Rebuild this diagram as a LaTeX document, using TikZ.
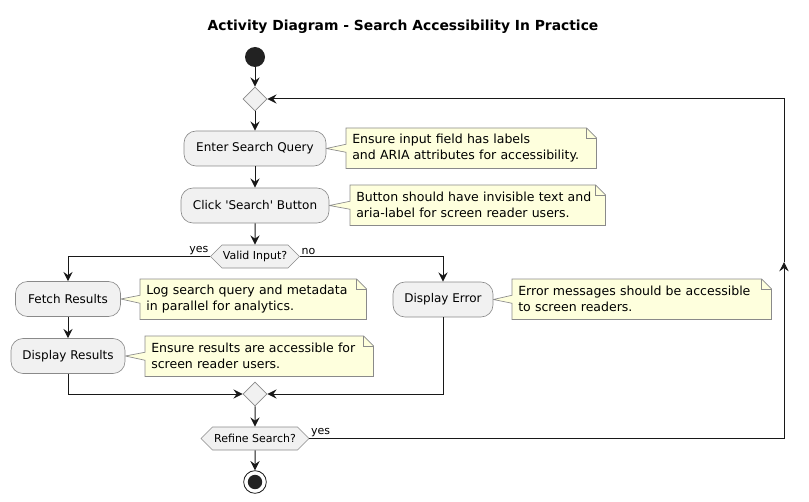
\documentclass[tikz,border=0pt]{standalone}
\usepackage{fontspec}
\setmainfont{DejaVu Sans}
\usetikzlibrary{shapes.geometric,shapes.symbols,arrows.meta,backgrounds}

\definecolor{linegray}{HTML}{181818}
\definecolor{boxgray}{HTML}{8A8A8A}
\definecolor{actfill}{HTML}{F1F1F1}
\definecolor{notefill}{HTML}{FEFFDD}
\definecolor{dotfill}{HTML}{222222}

\tikzset{
  act/.style = {rectangle, rounded corners = 9pt, draw = boxgray, line width = .5pt,
                fill = actfill, minimum height = 26.25pt, inner sep = 0pt,
                font = \fontsize{9pt}{11pt}\selectfont},
  test/.style = {signal, signal to = east and west, draw = boxgray, line width = .5pt,
                 fill = actfill, minimum height = 17.25pt, inner sep = 0pt,
                 font = \fontsize{8.25pt}{10pt}\selectfont},
  merge/.style = {diamond, draw = boxgray, line width = .5pt, fill = actfill,
                  minimum width = 18pt, minimum height = 18pt, inner sep = 0pt},
  startdot/.style = {circle, fill = dotfill, minimum size = 15pt, inner sep = 0pt},
  stopdot/.style = {circle, draw = linegray, line width = .6pt, fill = white,
                    minimum size = 17pt, inner sep = 0pt,
                    path picture = {\fill[dotfill] (path picture bounding box.center) circle (5.4pt);}},
  note/.style = {anchor = north west, align = left, inner xsep = 4.5pt, inner ysep = 0pt,
                 minimum height = 30pt, font = \fontsize{9.4pt}{12pt}\selectfont},
  notebg/.style = {draw = boxgray, line width = .5pt, fill = notefill},
  branch/.style = {inner sep = 1pt, font = \fontsize{8.25pt}{10pt}\selectfont},
  flow/.style = {->, draw = linegray, line width = .75pt},
}

% note outline with its pointer to the activity
\newcommand{\notefor}[2]{%
  \begin{scope}[on background layer]
    \draw[notebg] (#1.north west) -- ([xshift=-7.5pt]#1.north east)
      -- ([yshift=-7.5pt]#1.north east) -- (#1.south east) -- (#1.south west)
      -- ([yshift=-3pt]#1.west) -- (#2.east) -- ([yshift=3pt]#1.west) -- cycle;
    \draw[notebg, fill = none] ([xshift=-7.5pt]#1.north east)
      -- ([xshift=-7.5pt,yshift=-7.5pt]#1.north east) -- ([yshift=-7.5pt]#1.north east);
  \end{scope}}

\begin{document}
\begin{tikzpicture}[x = .75pt, y = -.75pt, >= {Stealth[length=7pt, width=7pt, inset=2.5pt]}]
    \useasboundingbox (0,0) rectangle (809,502);

    \node [font = \bfseries\fontsize{10.4pt}{12pt}\selectfont] (title) at (403, 27)
        {Activity Diagram - Search Accessibility In Practice};

    % main column
    \node [startdot] (start) at (255, 57) {};
    \node [merge] (loopin) at (255, 99) {};
    \node [act, minimum width = 106.5pt] (query) at (255, 148.5) {Enter Search Query};
    \node [act, minimum width = 111pt] (click) at (255, 205.5)
        {Click \textquotesingle Search\textquotesingle{} Button};
    \node [test, minimum width = 66.75pt] (valid) at (255, 256.5) {Valid Input?};

    % branches
    \node [act, minimum width = 78.75pt] (fetch) at (68, 299) {Fetch Results};
    \node [act, minimum width = 85.5pt] (showres) at (68, 356) {Display Results};
    \node [act, minimum width = 75pt] (error) at (443, 299.5) {Display Error};

    \node [merge] (join) at (255, 394) {};
    \node [test, minimum width = 81pt] (refine) at (255, 438.5) {Refine Search?};
    \node [stopdot] (stop) at (255, 482) {};

    %%%%%%%%%%%%%%%%%%%%
    \node [note, text width = 178.5pt] (querynote) at (346, 128)
        {Ensure input field has labels\\and ARIA attributes for accessibility.};
    \node [note, text width = 182.25pt] (clicknote) at (350, 185)
        {Button should have invisible text and\\aria-label for screen reader users.};
    \node [note, text width = 160.5pt] (fetchnote) at (140, 279)
        {Log search query and metadata\\in parallel for analytics.};
    \node [note, text width = 162pt] (shownote) at (145, 336)
        {Ensure results are accessible for\\screen reader users.};
    \node [note, text width = 185.25pt] (errornote) at (512, 279)
        {Error messages should be accessible\\to screen readers.};
    \notefor{querynote}{query}
    \notefor{clicknote}{click}
    \notefor{fetchnote}{fetch}
    \notefor{shownote}{showres}
    \notefor{errornote}{error}

    %%%%%%%%%%%%%%%%%%%%
    \draw [flow] (start) -- (loopin);
    \draw [flow] (loopin) -- (query);
    \draw [flow] (query) -- (click);
    \draw [flow] (click) -- (valid);
    \draw [flow] (valid.west) -| (fetch.north);
    \draw [flow] (fetch) -- (showres);
    \draw [flow] (showres.south) |- (join.west);
    \draw [flow] (valid.east) -| (error.north);
    \draw [flow] (error.south) |- (join.east);
    \draw [flow] (join) -- (refine);
    \draw [flow] (refine) -- (stop);

    \node [branch, anchor = south east] (yesvalid) at (valid.west) {yes};
    \node [branch, anchor = south west] (novalid) at (valid.east) {no};
    \node [branch, anchor = south west] (yesrefine) at (refine.east) {yes};

    % loop back
    \coordinate (loopbot) at (784, 438.5);
    \coordinate (loopmid) at (784, 262);
    \coordinate (looptop) at (784, 99);
    \draw [flow] (refine.east) -- (loopbot) -- (loopmid);
    \draw [flow] (loopmid) -- (looptop) -- (loopin.east);
\end{tikzpicture}
\end{document}
